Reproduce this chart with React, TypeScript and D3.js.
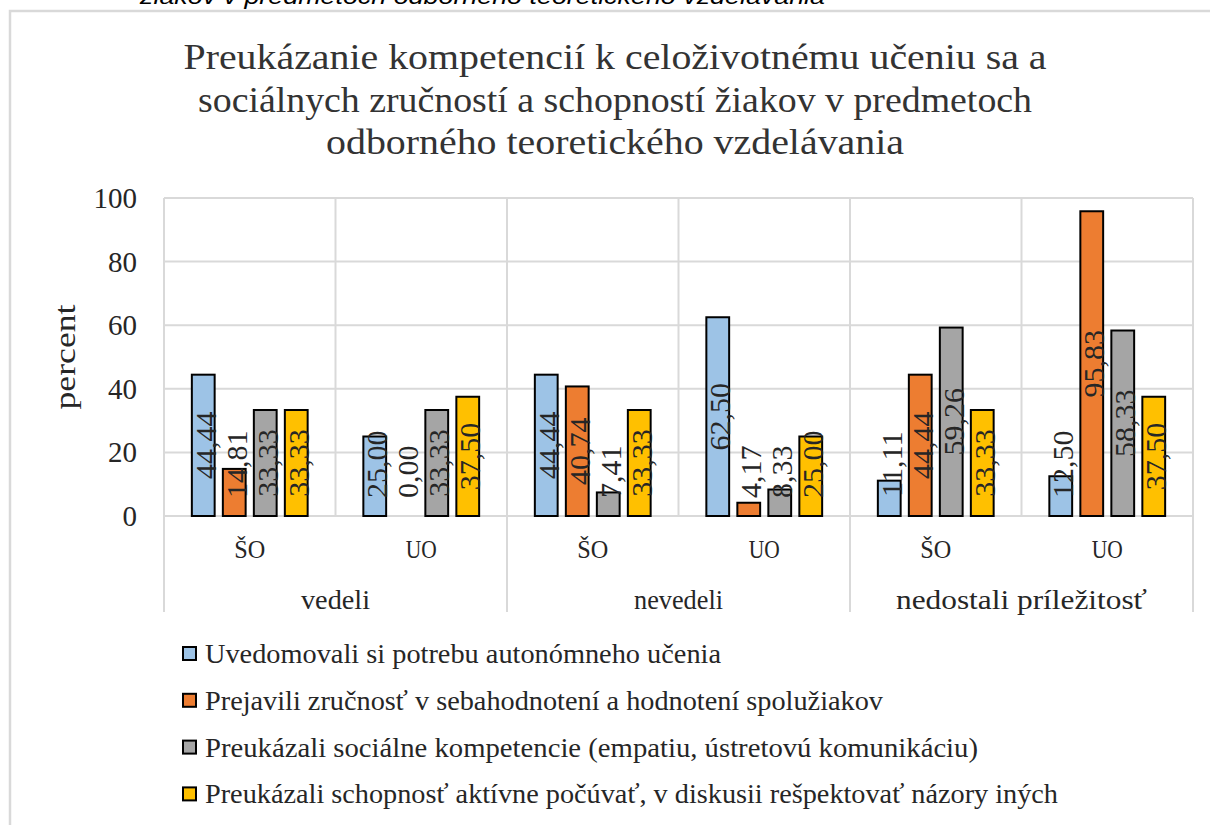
import React from "react";
import * as d3 from "d3";

const subCategories = ["ŠO", "UO", "ŠO", "UO", "ŠO", "UO"];
const groups = ["vedeli", "nevedeli", "nedostali príležitosť"];
const seriesNames = [
  "Uvedomovali si potrebu autonómneho učenia",
  "Prejavili zručnosť v sebahodnotení a hodnotení spolužiakov",
  "Preukázali sociálne kompetencie (empatiu, ústretovú komunikáciu)",
  "Preukázali schopnosť aktívne počúvať, v diskusii rešpektovať názory iných",
];
const autonomne = [44.44, 25.0, 44.44, 62.5, 11.11, 12.5];
const sebahodnotenie = [14.81, 0.0, 40.74, 4.17, 44.44, 95.83];
const socialne = [33.33, 33.33, 7.41, 8.33, 59.26, 58.33];
const pocuvat = [33.33, 37.5, 33.33, 25.0, 33.33, 37.5];
const seriesValues = [autonomne, sebahodnotenie, socialne, pocuvat];
const colors = ["#9DC3E6", "#ED7D31", "#A5A5A5", "#FFC000"];
const yTicks = [0, 20, 40, 60, 80, 100];
const titleLines = [
  "Preukázanie kompetencií k celoživotnému učeniu sa a",
  "sociálnych zručností a schopností žiakov v predmetoch",
  "odborného teoretického vzdelávania",
];
const topCaption = "žiakov v predmetoch odborného teoretického vzdelávania";

const W = 1210;
const H = 825;
const plotLeft = 164;
const plotRight = 1193;
const plotTop = 198;
const plotBottom = 516;
const axisBottom = 612;
const serif = "'Liberation Serif', 'Times New Roman', serif";
const grid = "#d9d9d9";
const txt = "#262626";

const fmt = (v: number) => v.toFixed(2).replace(".", ",");

export default function App() {
  const x = d3
    .scaleBand<number>()
    .domain(d3.range(subCategories.length))
    .range([plotLeft, plotRight])
    .padding(0);
  const y = d3.scaleLinear().domain([0, 100]).range([plotBottom, plotTop]);
  const inner = d3
    .scaleBand<number>()
    .domain(d3.range(seriesValues.length))
    .range([-62, 62])
    .paddingInner(0.2)
    .paddingOuter(0.1);
  const bw = x.bandwidth();
  const labelFont = 30;
  const titleLens = [863, 834, 578];
  const legendLens = [516, 678, 773, 853];
  const groupLens = [69, 89, 251];

  return (
    <svg
      width={W}
      height={H}
      style={{ position: "absolute", left: 0, top: 0, background: "#fff" }}
    >
      <rect x={0} y={0} width={W} height={H} fill="#fff" />
      {/* cut-off caption at top (cropped in the reference too) */}
      <text
        x={140}
        y={4}
        fontFamily="'Liberation Sans', Arial, sans-serif"
        fontStyle="italic"
        fontSize={22}
        fill="#000"
        textLength={685}
        lengthAdjust="spacingAndGlyphs"
      >
        {topCaption}
      </text>
      {/* chart frame */}
      <rect x={10} y={11} width={1300} height={900} fill="#fff" stroke={grid} strokeWidth={2.5} />

      {/* title */}
      {titleLines.map((t, i) => (
        <text
          key={i}
          x={615}
          y={69 + i * 42.5}
          textAnchor="middle"
          fontFamily={serif}
          fontSize={35}
          fill="#333"
          textLength={titleLens[i]}
          lengthAdjust="spacingAndGlyphs"
        >
          {t}
        </text>
      ))}

      {/* horizontal gridlines */}
      {yTicks.map((t) => (
        <line key={t} x1={plotLeft} x2={plotRight} y1={y(t)} y2={y(t)} stroke={grid} strokeWidth={2} />
      ))}
      {/* vertical gridlines at sub-category boundaries */}
      {d3.range(subCategories.length + 1).map((k) => {
        const xx = plotLeft + k * bw;
        const isGroup = k % 2 === 0;
        return (
          <line
            key={k}
            x1={xx}
            x2={xx}
            y1={plotTop}
            y2={isGroup ? axisBottom : plotBottom}
            stroke={grid}
            strokeWidth={2}
          />
        );
      })}

      {/* y tick labels */}
      {yTicks.map((t) => (
        <text key={t} x={137} y={y(t) + 10} textAnchor="end" fontFamily={serif} fontSize={29} fill={txt}>
          {t}
        </text>
      ))}
      <text
        transform={`translate(75,357) rotate(-90)`}
        textAnchor="middle"
        fontFamily={serif}
        fontSize={30}
        fill={txt}
        textLength={105}
        lengthAdjust="spacingAndGlyphs"
      >
        percent
      </text>

      {/* bars */}
      {seriesValues.map((vals, s) =>
        vals.map((v, i) => {
          const cx = (x(i) as number) + bw / 2;
          const bx = cx + (inner(s) as number);
          const w = inner.bandwidth();
          return (
            <rect
              key={`${s}-${i}`}
              x={bx + 1}
              y={y(v)}
              width={w - 2}
              height={Math.max(0, y(0) - y(v))}
              fill={colors[s]}
              stroke="#000"
              strokeWidth={2}
              style={{ display: v > 0 ? undefined : "none" }}
            />
          );
        })
      )}

      {/* data labels */}
      {seriesValues.map((vals, s) =>
        vals.map((v, i) => {
          const cx = (x(i) as number) + bw / 2 + (inner(s) as number) + inner.bandwidth() / 2;
          const label = fmt(v);
          const len = labelFont * ((label.length - 1) * 0.5 + 0.25);
          const cy = Math.min(y(v / 2), y(0) - 18 - len / 2);
          return (
            <text
              key={`l-${s}-${i}`}
              transform={`translate(${cx + 2},${cy}) rotate(-90)`}
              textAnchor="middle"
              dominantBaseline="central"
              fontFamily={serif}
              fontSize={labelFont}
              fill={txt}
            >
              {label}
            </text>
          );
        })
      )}

      {/* sub-category labels */}
      {subCategories.map((c, i) => (
        <text
          key={i}
          x={(x(i) as number) + bw / 2}
          y={558}
          textAnchor="middle"
          fontFamily={serif}
          fontSize={26}
          fill={txt}
          textLength={31}
          lengthAdjust="spacingAndGlyphs"
        >
          {c}
        </text>
      ))}
      {/* group labels */}
      {groups.map((g, gi) => (
        <text
          key={g}
          x={plotLeft + bw * (gi * 2 + 1)}
          y={609}
          textAnchor="middle"
          fontFamily={serif}
          fontSize={27}
          fill={txt}
          textLength={groupLens[gi]}
          lengthAdjust="spacingAndGlyphs"
        >
          {g}
        </text>
      ))}

      {/* legend */}
      {seriesNames.map((n, s) => {
        const cy = 654 + s * 46.8;
        return (
          <g key={n}>
            <rect x={183} y={cy - 7} width={13} height={13} fill={colors[s]} stroke="#000" strokeWidth={2} />
            <text
              x={205}
              y={cy + 9}
              fontFamily={serif}
              fontSize={27}
              fill={txt}
              textLength={legendLens[s]}
              lengthAdjust="spacingAndGlyphs"
            >
              {n}
            </text>
          </g>
        );
      })}
    </svg>
  );
}
